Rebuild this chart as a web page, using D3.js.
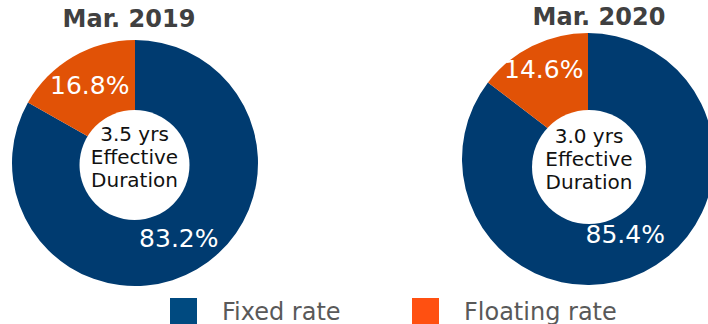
<!DOCTYPE html>
<html>
<head>
<meta charset="utf-8">
<script src="https://cdn.jsdelivr.net/npm/d3@7"></script>
<style>
  body { margin: 0; background: #fff; }
  svg { display: block; font-family: "DejaVu Sans", Verdana, sans-serif; }
</style>
</head>
<body>
<svg id="chart" width="708" height="324"></svg>
<script>
// data
const periods = ["Mar. 2019", "Mar. 2020"];
const categories = ["Fixed rate", "Floating rate"];
const fixedShare = [83.2, 85.4];
const floatingShare = [16.8, 14.6];
const durationLabels = ["3.5 yrs", "3.0 yrs"];

const sliceColor = { "Fixed rate": "#003b70", "Floating rate": "#e15206" };
const legendColor = { "Fixed rate": "#004a80", "Floating rate": "#ff5011" };

/***
 * Layout for each donut
 */
const layout = [
    { cx: 135, cy: 163, r: 123, holeX: 134.5, holeY: 165, holeR: 55, titleX: 129, titleY: 27, labelR: [87, 90] },
    { cx: 588, cy: 159, r: 126, holeX: 589, holeY: 167, holeR: 57, titleX: 599, titleY: 25, labelR: [84, 100] }
];

const svg = d3.select("#chart");

const pie = d3.pie().sort(null).value(d => d.value);

periods.forEach((period, i) => {
    const L = layout[i];
    const data = [
        { key: categories[0], value: fixedShare[i] },
        { key: categories[1], value: floatingShare[i] }
    ];
    const arcs = pie(data);
    const arc = d3.arc().innerRadius(0).outerRadius(L.r);

    const g = svg.append("g").attr("transform", `translate(${L.cx},${L.cy})`);

    g.selectAll("path")
        .data(arcs)
        .join("path")
        .attr("d", arc)
        .attr("fill", d => sliceColor[d.data.key]);

    // percentage labels
    g.selectAll("text.pct")
        .data(arcs)
        .join("text")
        .attr("class", "pct")
        .attr("transform", (d, j) => {
            const la = d3.arc().innerRadius(L.labelR[j]).outerRadius(L.labelR[j]);
            return `translate(${la.centroid(d)})`;
        })
        .attr("text-anchor", "middle")
        .attr("dy", "0.36em")
        .attr("fill", "#fff")
        .attr("font-size", 25)
        .text(d => d.data.value.toFixed(1) + "%");

    // white hole
    svg.append("circle")
        .attr("cx", L.holeX)
        .attr("cy", L.holeY)
        .attr("r", L.holeR)
        .attr("fill", "#fff");

    const centerText = [durationLabels[i], "Effective", "Duration"];
    svg.append("g")
        .selectAll("text")
        .data(centerText)
        .join("text")
        .attr("x", L.holeX)
        .attr("y", (d, k) => L.holeY - 24 + k * 23)
        .attr("text-anchor", "middle")
        .attr("fill", "#111")
        .attr("font-size", 20)
        .text(d => d);

    svg.append("text")
        .attr("x", L.titleX)
        .attr("y", L.titleY)
        .attr("text-anchor", "middle")
        .attr("fill", "#404040")
        .attr("font-size", 24)
        .attr("font-weight", "bold")
        .text(period);
});

/***
 * Legend
 */
const legendX = d3.scalePoint().domain(categories).range([170, 412]);
const legend = svg.append("g");
const item = legend.selectAll("g")
    .data(categories)
    .join("g")
    .attr("transform", d => `translate(${legendX(d)},298)`);

item.append("rect")
    .attr("width", 27)
    .attr("height", 27)
    .attr("fill", d => legendColor[d]);

item.append("text")
    .attr("x", 52)
    .attr("y", 22)
    .attr("fill", "#595959")
    .attr("font-size", 24)
    .text(d => d);
</script>
</body>
</html>
